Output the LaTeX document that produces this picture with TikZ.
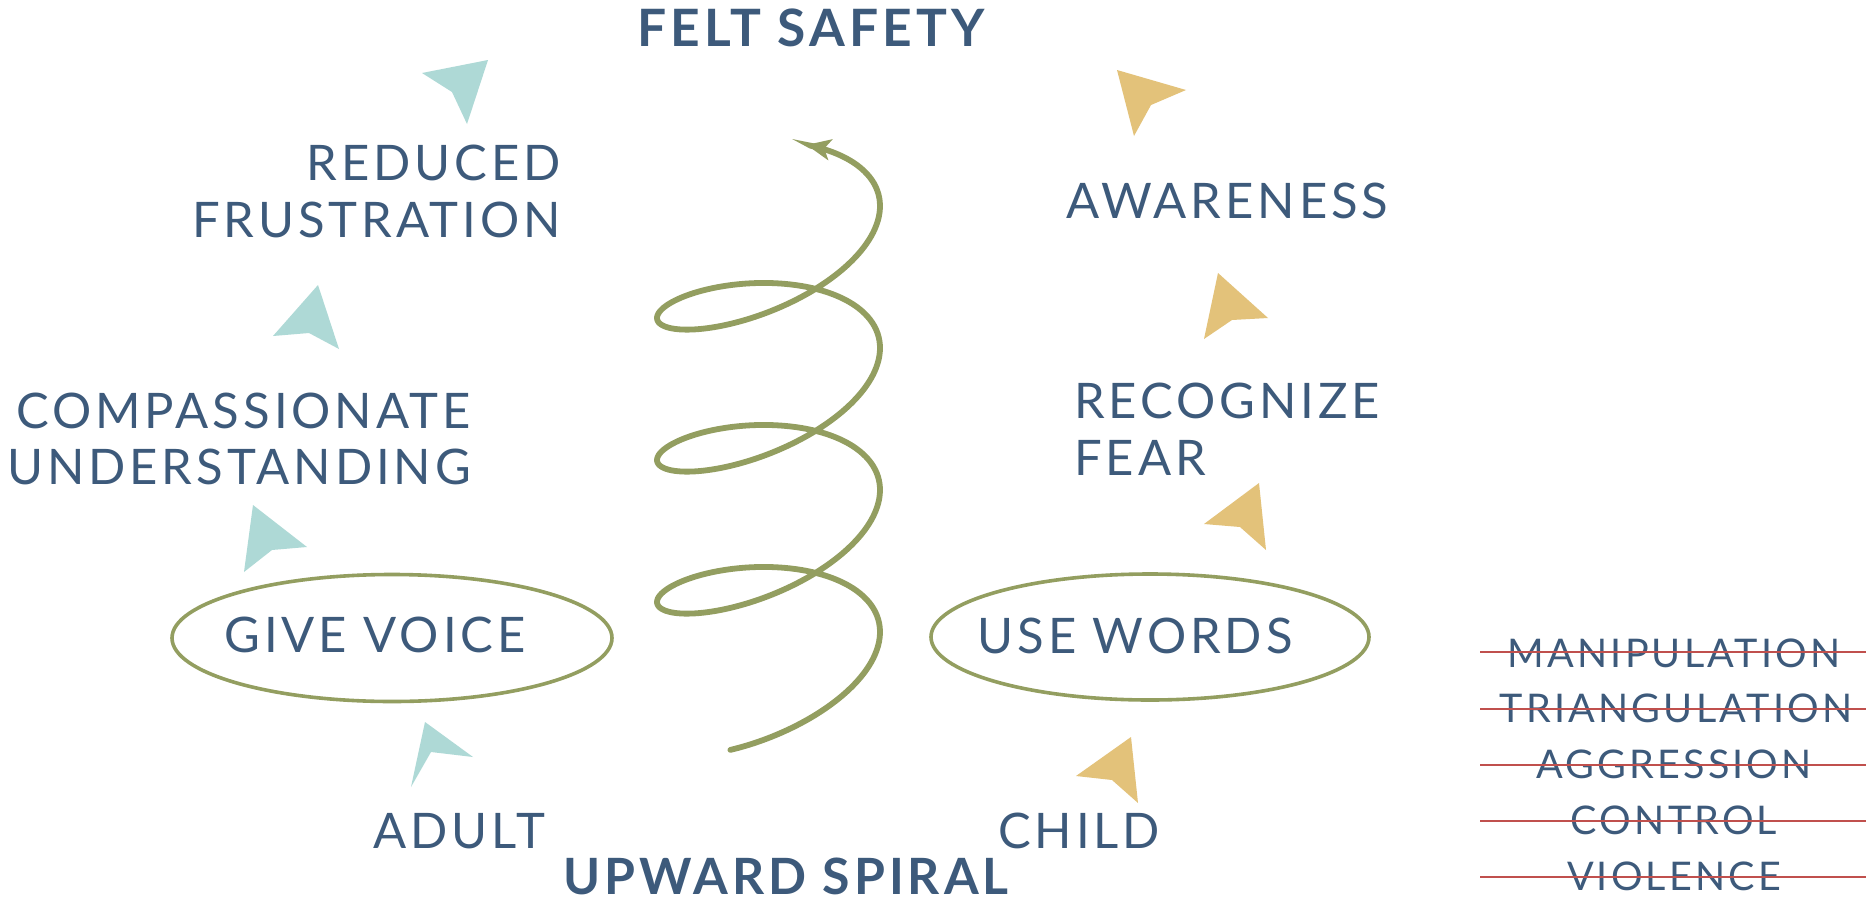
\documentclass[tikz,border=0pt]{standalone}
\usepackage{fontspec}
\newfontfamily\lbl{Lato}[LetterSpace=8]
\usetikzlibrary{arrows.meta,shapes.geometric}
\definecolor{txt}{HTML}{3D5A7B}
\definecolor{tealc}{HTML}{AED9D6}
\definecolor{goldc}{HTML}{E3C27A}
\definecolor{olivec}{HTML}{939E60}
\definecolor{redc}{HTML}{C0504D}
\tikzset{
  lab/.style={font=\lbl\fontsize{49}{57}\selectfont, text=txt, inner sep=0pt},
  headline/.style={font=\lbl\bfseries\fontsize{50}{57}\selectfont, text=txt, inner sep=0pt},
  struck/.style={font=\lbl\fontsize{39.5}{48}\selectfont, text=txt, inner sep=0pt},
  tealhead/.style={fill=tealc},
  goldhead/.style={fill=goldc},
  ring/.style={draw=olivec, line width=3.6pt, ellipse, inner sep=0pt},
  spiralline/.style={draw=olivec, line width=5.8pt, line cap=round, -{Stealth[length=24pt,width=21pt,inset=6pt]}},
  strikeline/.style={draw=redc, line width=2.4pt},
}
\begin{document}
\begin{tikzpicture}[x=1pt,y=-1pt]
\useasboundingbox (0,0) rectangle (1869,902);
\fill[white] (0,0) rectangle (1869,902);

% titles
\node[headline, font=\lbl\bfseries\fontsize{51.5}{57}\selectfont, anchor=base] (felt) at (811,46) {FELT SAFETY};
\node[headline, anchor=base] (upward) at (786,894) {UPWARD SPIRAL};

% left column
\node[lab, anchor=base east] (red1) at (561,180) {REDUCED};
\node[lab, anchor=base east] (red2) at (561,237) {FRUSTRATION};
\node[lab, anchor=base east] (comp1) at (471,428) {COMPASSIONATE};
\node[lab, anchor=base east] (comp2) at (471,484) {UNDERSTANDING};
\node[ring, minimum width=440pt, minimum height=127pt] (gvring) at (392,638) {};
\node[lab, anchor=base] (gv) at (375,652) {GIVE VOICE};
\node[lab, anchor=base] (adult) at (459,848) {ADULT};

% right column
\node[lab, anchor=base west] (aware) at (1066,218) {AWARENESS};
\node[lab, anchor=base west] (rec1) at (1074,418) {RECOGNIZE};
\node[lab, anchor=base west] (rec2) at (1074,475) {FEAR};
\node[ring, minimum width=438pt, minimum height=126pt] (uwring) at (1150,637) {};
\node[lab, anchor=base] (uw) at (1135,653) {USE WORDS};
\node[lab, anchor=base] (child) at (1079,848) {CHILD};

% teal arrowheads
\fill[tealhead] (488,60) -- (422,73) -- (452,92) -- (467,124) -- cycle;
\fill[tealhead] (318,285) -- (339,349) -- (309,333) -- (273,336) -- cycle;
\fill[tealhead] (253,505) -- (307,547) -- (272,550) -- (244,572) -- cycle;
\fill[tealhead] (425,722) -- (473,757) -- (431,752) -- (411,787) -- cycle;

% gold arrowheads
\fill[goldhead] (1117,70) -- (1186,90) -- (1151,105) -- (1134,136) -- cycle;
\fill[goldhead] (1218,273) -- (1268,318) -- (1232,320) -- (1204,339) -- cycle;
\fill[goldhead] (1259,483) -- (1266,550) -- (1240,527) -- (1204,524) -- cycle;
\fill[goldhead] (1131,737) -- (1138,803) -- (1112,780) -- (1076,776) -- cycle;

% spiral (projected helix)
\coordinate (sp0) at (730,750);
\coordinate (sp1) at (808,145);
\draw[spiralline] plot[domain=-110:1150, samples=420, smooth, variable=\t]
  ({768.5+111.5*cos(\t)}, {652.5-0.394444*\t-50*sin(\t)-20.5*cos(\t)});

% struck-out list
\node[struck, anchor=base] (manip) at (1674,667) {MANIPULATION};
\node[struck, anchor=base] (triang) at (1676,722) {TRIANGULATION};
\node[struck, anchor=base] (aggr) at (1674,778) {AGGRESSION};
\node[struck, anchor=base] (contr) at (1674,834) {CONTROL};
\node[struck, anchor=base] (viol) at (1674,890) {VIOLENCE};
\draw[strikeline] (1480,652) -- (1866,652);
\draw[strikeline] (1480,709) -- (1866,709);
\draw[strikeline] (1480,765) -- (1866,765);
\draw[strikeline] (1480,821) -- (1866,821);
\draw[strikeline] (1480,877) -- (1866,877);
\end{tikzpicture}
\end{document}
